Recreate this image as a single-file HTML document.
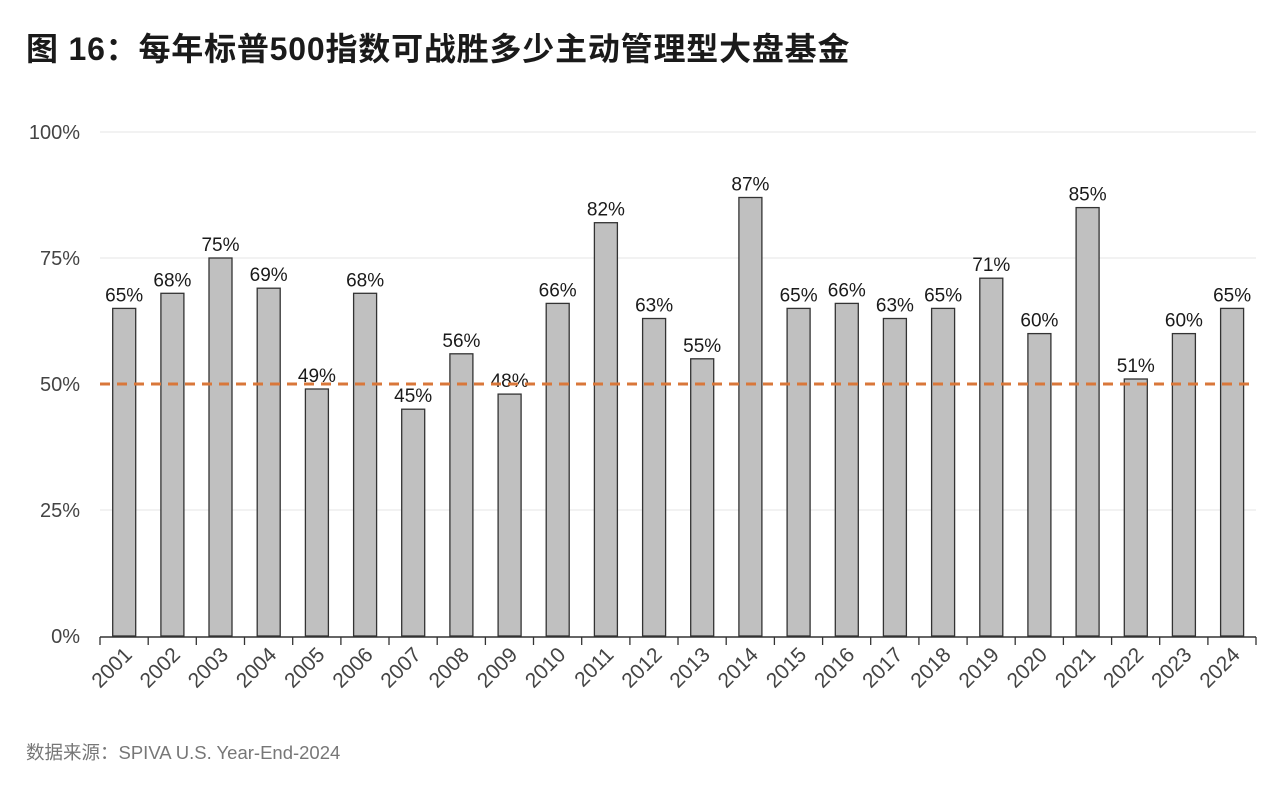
<!DOCTYPE html><html><head><meta charset="utf-8"><style>body{margin:0;background:#fff}svg{display:block}</style></head><body>
<svg width="1280" height="791" xmlns="http://www.w3.org/2000/svg" font-family="Liberation Sans, Noto Sans CJK SC, sans-serif">
<text x="26" y="60" font-size="32" font-weight="bold" fill="#1a1a1a" letter-spacing="0.8">图 16：每年标普500指数可战胜多少主动管理型大盘基金</text>
<g stroke="#e6e6e6" stroke-width="1">
<line x1="100" x2="1256" y1="132" y2="132"/><line x1="100" x2="1256" y1="258" y2="258"/><line x1="100" x2="1256" y1="510" y2="510"/></g>
<g font-size="20" fill="#444" text-anchor="end">
<text x="80" y="139">100%</text><text x="80" y="265">75%</text><text x="80" y="391">50%</text><text x="80" y="517">25%</text><text x="80" y="643">0%</text></g>
<g fill="#c0c0c0" stroke="#333" stroke-width="1.3">
<rect x="112.7" y="308.4" width="23" height="327.6"/>
<rect x="160.9" y="293.3" width="23" height="342.7"/>
<rect x="209.0" y="258" width="23" height="378"/>
<rect x="257.2" y="288.2" width="23" height="347.8"/>
<rect x="305.4" y="389" width="23" height="247"/>
<rect x="353.6" y="293.3" width="23" height="342.7"/>
<rect x="401.7" y="409.2" width="23" height="226.8"/>
<rect x="449.9" y="353.8" width="23" height="282.2"/>
<rect x="498.1" y="394.1" width="23" height="241.9"/>
<rect x="546.2" y="303.4" width="23" height="332.6"/>
<rect x="594.4" y="222.7" width="23" height="413.3"/>
<rect x="642.6" y="318.5" width="23" height="317.5"/>
<rect x="690.7" y="358.8" width="23" height="277.2"/>
<rect x="738.9" y="197.5" width="23" height="438.5"/>
<rect x="787.1" y="308.4" width="23" height="327.6"/>
<rect x="835.3" y="303.4" width="23" height="332.6"/>
<rect x="883.4" y="318.5" width="23" height="317.5"/>
<rect x="931.6" y="308.4" width="23" height="327.6"/>
<rect x="979.8" y="278.2" width="23" height="357.8"/>
<rect x="1027.9" y="333.6" width="23" height="302.4"/>
<rect x="1076.1" y="207.6" width="23" height="428.4"/>
<rect x="1124.3" y="379" width="23" height="257"/>
<rect x="1172.4" y="333.6" width="23" height="302.4"/>
<rect x="1220.6" y="308.4" width="23" height="327.6"/>
</g>
<g font-size="19" fill="#1a1a1a" text-anchor="middle">
<text x="124.2" y="301.4">65%</text>
<text x="172.4" y="286.3">68%</text>
<text x="220.5" y="251">75%</text>
<text x="268.7" y="281.2">69%</text>
<text x="316.9" y="382">49%</text>
<text x="365.1" y="286.3">68%</text>
<text x="413.2" y="402.2">45%</text>
<text x="461.4" y="346.8">56%</text>
<text x="509.6" y="387.1">48%</text>
<text x="557.7" y="296.4">66%</text>
<text x="605.9" y="215.7">82%</text>
<text x="654.1" y="311.5">63%</text>
<text x="702.2" y="351.8">55%</text>
<text x="750.4" y="190.5">87%</text>
<text x="798.6" y="301.4">65%</text>
<text x="846.8" y="296.4">66%</text>
<text x="894.9" y="311.5">63%</text>
<text x="943.1" y="301.4">65%</text>
<text x="991.3" y="271.2">71%</text>
<text x="1039.4" y="326.6">60%</text>
<text x="1087.6" y="200.6">85%</text>
<text x="1135.8" y="372">51%</text>
<text x="1183.9" y="326.6">60%</text>
<text x="1232.1" y="301.4">65%</text>
</g>
<line x1="100" x2="1256" y1="384" y2="384" stroke="#d9773a" stroke-width="3" stroke-dasharray="10,7"/>
<line x1="100" x2="1256" y1="637" y2="637" stroke="#333" stroke-width="1.5"/>
<g stroke="#333" stroke-width="1.3">
<line x1="100" x2="100" y1="637" y2="645"/><line x1="148.2" x2="148.2" y1="637" y2="645"/><line x1="196.3" x2="196.3" y1="637" y2="645"/><line x1="244.5" x2="244.5" y1="637" y2="645"/><line x1="292.7" x2="292.7" y1="637" y2="645"/><line x1="340.9" x2="340.9" y1="637" y2="645"/><line x1="389" x2="389" y1="637" y2="645"/><line x1="437.2" x2="437.2" y1="637" y2="645"/><line x1="485.4" x2="485.4" y1="637" y2="645"/><line x1="533.5" x2="533.5" y1="637" y2="645"/><line x1="581.7" x2="581.7" y1="637" y2="645"/><line x1="629.9" x2="629.9" y1="637" y2="645"/><line x1="678" x2="678" y1="637" y2="645"/><line x1="726.2" x2="726.2" y1="637" y2="645"/><line x1="774.4" x2="774.4" y1="637" y2="645"/><line x1="822.6" x2="822.6" y1="637" y2="645"/><line x1="870.7" x2="870.7" y1="637" y2="645"/><line x1="918.9" x2="918.9" y1="637" y2="645"/><line x1="967.1" x2="967.1" y1="637" y2="645"/><line x1="1015.2" x2="1015.2" y1="637" y2="645"/><line x1="1063.4" x2="1063.4" y1="637" y2="645"/><line x1="1111.6" x2="1111.6" y1="637" y2="645"/><line x1="1159.7" x2="1159.7" y1="637" y2="645"/><line x1="1207.9" x2="1207.9" y1="637" y2="645"/><line x1="1256" x2="1256" y1="637" y2="645"/>
</g>
<g font-size="21" fill="#444" text-anchor="end">
<text transform="translate(133.2,656) rotate(-45)">2001</text>
<text transform="translate(181.4,656) rotate(-45)">2002</text>
<text transform="translate(229.5,656) rotate(-45)">2003</text>
<text transform="translate(277.7,656) rotate(-45)">2004</text>
<text transform="translate(325.9,656) rotate(-45)">2005</text>
<text transform="translate(374.1,656) rotate(-45)">2006</text>
<text transform="translate(422.2,656) rotate(-45)">2007</text>
<text transform="translate(470.4,656) rotate(-45)">2008</text>
<text transform="translate(518.6,656) rotate(-45)">2009</text>
<text transform="translate(566.7,656) rotate(-45)">2010</text>
<text transform="translate(614.9,656) rotate(-45)">2011</text>
<text transform="translate(663.1,656) rotate(-45)">2012</text>
<text transform="translate(711.2,656) rotate(-45)">2013</text>
<text transform="translate(759.4,656) rotate(-45)">2014</text>
<text transform="translate(807.6,656) rotate(-45)">2015</text>
<text transform="translate(855.8,656) rotate(-45)">2016</text>
<text transform="translate(903.9,656) rotate(-45)">2017</text>
<text transform="translate(952.1,656) rotate(-45)">2018</text>
<text transform="translate(1000.3,656) rotate(-45)">2019</text>
<text transform="translate(1048.4,656) rotate(-45)">2020</text>
<text transform="translate(1096.6,656) rotate(-45)">2021</text>
<text transform="translate(1144.8,656) rotate(-45)">2022</text>
<text transform="translate(1192.9,656) rotate(-45)">2023</text>
<text transform="translate(1241.1,656) rotate(-45)">2024</text>
</g>
<text x="26" y="759" font-size="18.5" fill="#777">数据来源：SPIVA U.S. Year-End-2024</text>
</svg></body></html>
